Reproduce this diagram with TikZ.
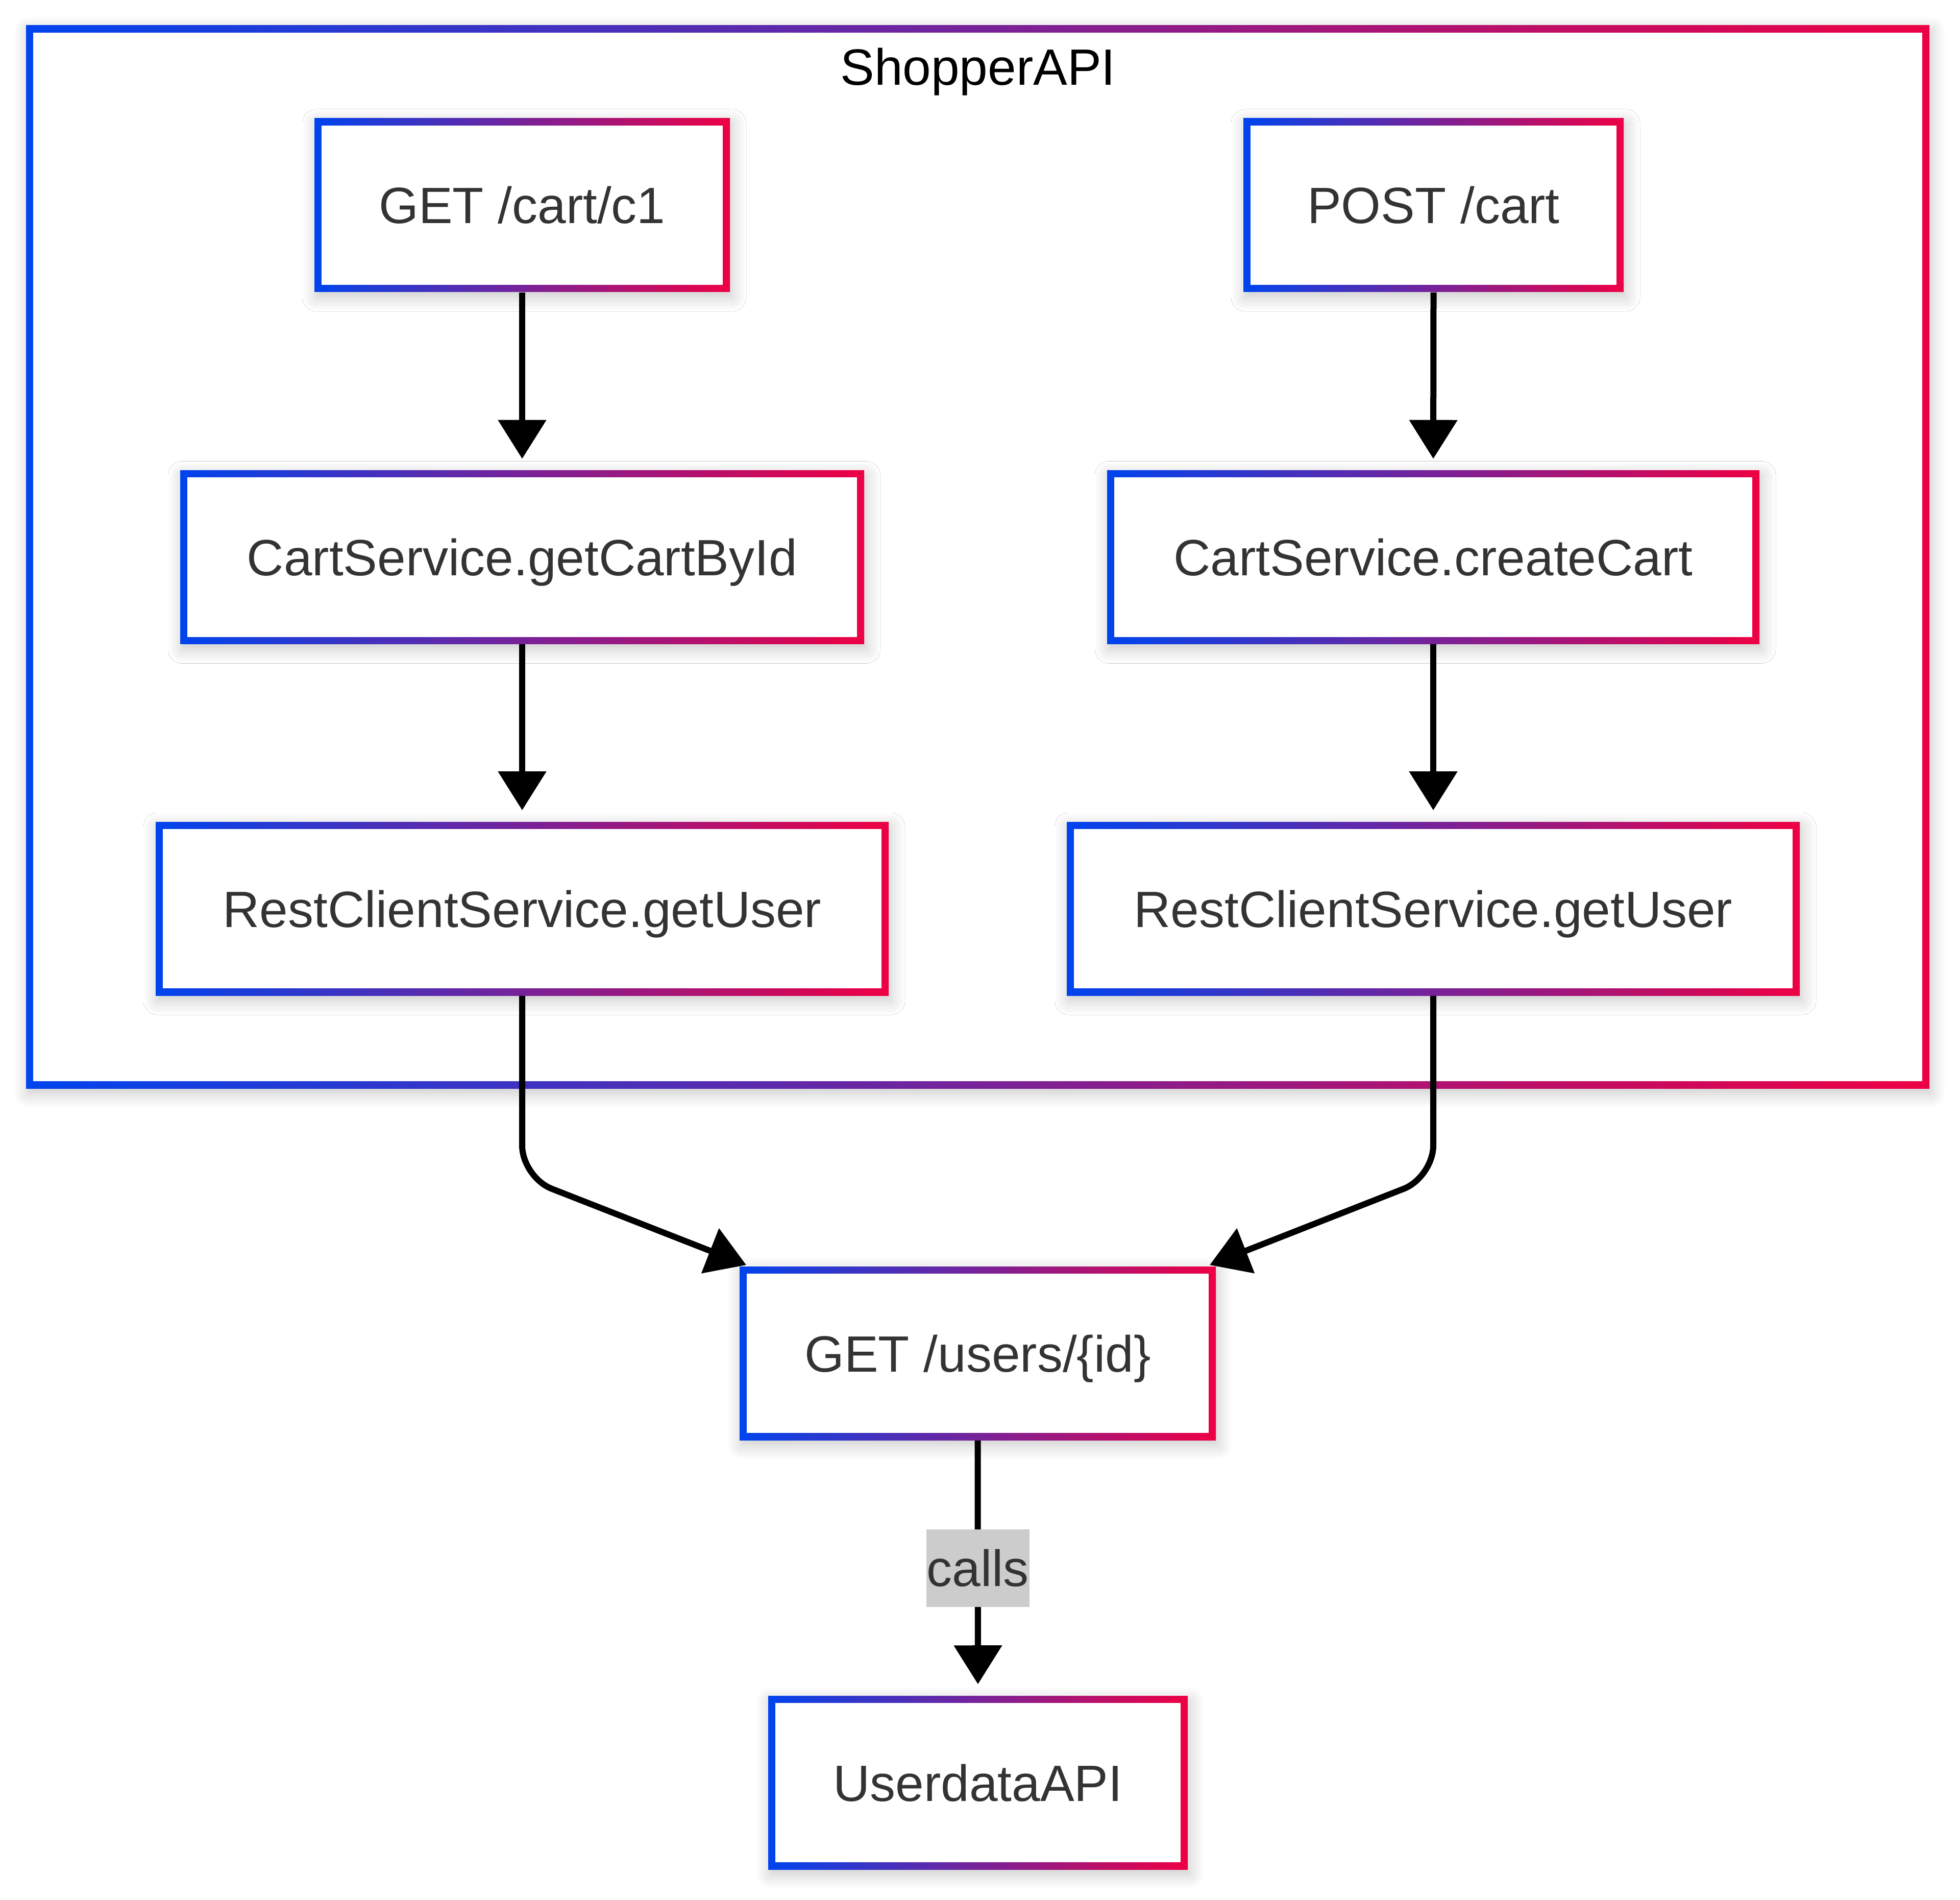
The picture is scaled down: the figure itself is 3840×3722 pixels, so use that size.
\documentclass[tikz,border=0pt]{standalone}
\usepackage{fontspec}
\setmainfont{Liberation Sans}
\usetikzlibrary{arrows.meta,shadows.blur}
\definecolor{gblue}{RGB}{0,68,238}
\definecolor{gred}{RGB}{238,0,68}
\definecolor{txt}{HTML}{333333}
\definecolor{lblbg}{HTML}{CCCCCC}
\begin{document}
\begin{tikzpicture}[x=0.25pt,y=-0.25pt,
  gbox/.style={rectangle, inner sep=0pt, left color=gblue, right color=gred,
    minimum height=85pt, text height=18pt, text depth=0pt,
    font=\fontsize{25pt}{30pt}\selectfont, text=txt,
    path picture={\fill[white] ([shift={(3.5pt,-3.5pt)}]path picture bounding box.north west) rectangle ([shift={(-3.5pt,3.5pt)}]path picture bounding box.south east);},
    blur shadow={shadow xshift=1pt, shadow yshift=-2.5pt, shadow blur radius=7pt, shadow blur steps=10, shadow opacity=22}},
  conn/.style={draw=black, line width=3pt, -{Triangle[length=19pt,width=23pt]}},
  lbl/.style={fill=lblbg, inner sep=0pt, minimum width=50.5pt, minimum height=38pt,
    text height=18pt, text depth=0pt, font=\fontsize{25pt}{30pt}\selectfont, text=txt}]
\useasboundingbox (0,0) rectangle (3840,3722);
% container
\node[gbox, minimum width=932.25pt, minimum height=520.5pt] (shop) at (1915.5,1091) {};
\node[font=\fontsize{25pt}{30pt}\selectfont, text=black, inner sep=0pt, text height=18pt, text depth=0pt] (title) at (1916,131) {ShopperAPI};
% left column
\node[gbox, minimum width=203.5pt] (g1) at (1023,402) {GET /cart/c1};
\node[gbox, minimum width=335pt] (cs1) at (1023,1091.5) {CartService.getCartById};
\node[gbox, minimum width=359pt] (rc1) at (1023,1780) {RestClientService.getUser};
% right column
\node[gbox, minimum width=186.25pt] (p1) at (2808.5,402) {POST /cart};
\node[gbox, minimum width=319.5pt] (cs2) at (2808,1091.5) {CartService.createCart};
\node[gbox, minimum width=359pt] (rc2) at (2808,1780) {RestClientService.getUser};
% bottom
\node[gbox, minimum width=233.25pt] (gu) at (1915.5,2651) {GET /users/\{id\}};
\node[gbox, minimum width=205.5pt] (ud) at (1916,3492) {UserdataAPI};
% connectors
\draw[conn, shorten >=5.5pt] (g1.south) -- (cs1.north);
\draw[conn, shorten >=5.5pt] (cs1.south) -- (rc1.north);
\draw[conn, shorten >=5.5pt] (p1.south) -- (cs2.north);
\draw[conn, shorten >=5.5pt] (cs2.south) -- (rc2.north);
\coordinate (lt) at (1462,2478);
\coordinate (rt) at (2370,2478);
\coordinate (lk) at (1023,2306);
\coordinate (rk) at (2808,2306);
\draw[conn, rounded corners=15.5pt] (rc1.south) -- (lk) -- (lt);
\draw[conn, rounded corners=15.5pt] (rc2.south) -- (rk) -- (rt);
\draw[conn, shorten >=5.5pt] (gu.south) -- node[lbl] (calls) {calls} (ud.north);
\end{tikzpicture}
\end{document}
